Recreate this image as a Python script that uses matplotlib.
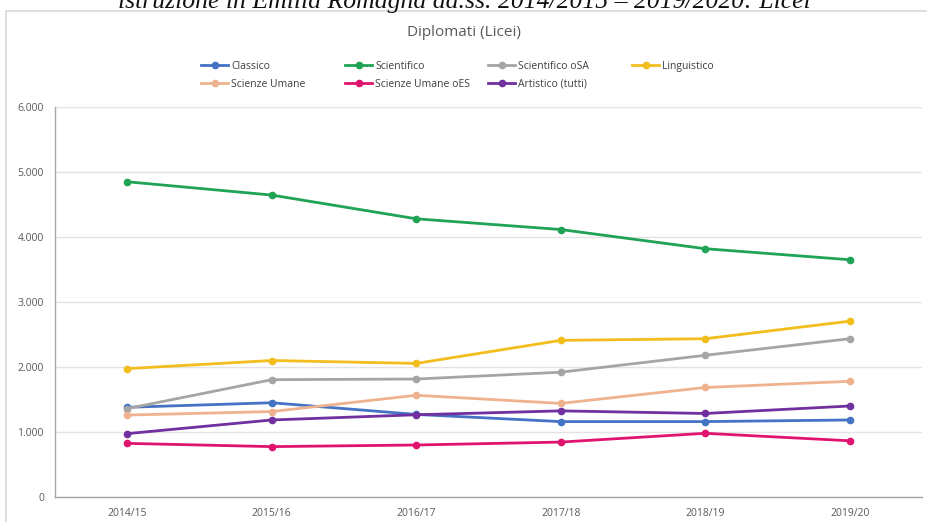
import matplotlib.pyplot as plt
from matplotlib.patches import Rectangle
from matplotlib.ticker import FuncFormatter

anni = ['2014/15', '2015/16', '2016/17', '2017/18', '2018/19', '2019/20']

classico = [1380, 1450, 1270, 1160, 1160, 1185]
scientifico = [4850, 4645, 4280, 4115, 3820, 3650]
scientifico_osa = [1360, 1805, 1815, 1920, 2180, 2435]
linguistico = [1975, 2100, 2055, 2410, 2435, 2705]
scienze_umane = [1260, 1315, 1565, 1440, 1685, 1780]
scienze_umane_oes = [825, 775, 800, 845, 980, 865]
artistico = [975, 1185, 1265, 1325, 1285, 1400]

serie = [
    ('Classico', classico, '#4472c4'),
    ('Scientifico', scientifico, '#1fa354'),
    ('Scientifico oSA', scientifico_osa, '#a5a5a5'),
    ('Linguistico', linguistico, '#f2bd1d'),
    ('Scienze Umane', scienze_umane, '#eeb38e'),
    ('Scienze Umane oES', scienze_umane_oes, '#e0146e'),
    ('Artistico (tutti)', artistico, '#70309f'),
]

plt.rcParams['font.family'] = ['Open Sans', 'DejaVu Sans']

fig = plt.figure(figsize=(9.28, 5.22), dpi=100)

# chart frame and the (cropped) caption above it
fig.patches.append(Rectangle((6 / 928, -0.1), 1.0, 1 - 11 / 522 + 0.1,
                             transform=fig.transFigure, fill=False,
                             edgecolor='#d9d9d9', linewidth=1.2))
fig.text(0.5, 1 - 8 / 522, "istruzione in Emilia Romagna aa.ss. 2014/2015 \u2013 2019/2020: Licei",
         ha='center', va='baseline', fontsize=18.5, style='italic',
         family='Liberation Serif', color='#111111')
fig.text(0.5, 1 - 33 / 522, 'Diplomati (Licei)', ha='center', va='center',
         fontsize=11, color='#595959')

ax = fig.add_axes([55 / 928, 1 - 497 / 522, 867 / 928, 390 / 522])
x = list(range(len(anni)))
linee = []
for nome, valori, colore in serie:
    l, = ax.plot(x, valori, color=colore, linewidth=2.0, marker='o', markersize=4.5,
                 label=nome, solid_joinstyle='round')
    linee.append(l)

ax.set_xlim(-0.5, 5.5)
ax.set_ylim(0, 6000)
ax.set_yticks(range(0, 6001, 1000))
ax.yaxis.set_major_formatter(FuncFormatter(lambda v, p: f'{int(v):,}'.replace(',', '.')))
ax.set_xticks(x)
ax.set_xticklabels(anni)
ax.tick_params(axis='both', length=0, labelsize=7.5, colors='#595959', pad=8)
ax.grid(axis='y', color='#e3e3e3', linewidth=1)
ax.set_axisbelow(True)
for lato in ['top', 'right']:
    ax.spines[lato].set_visible(False)
for lato in ['left', 'bottom']:
    ax.spines[lato].set_color('#a6a6a6')
    ax.spines[lato].set_linewidth(1)

# legend laid out row by row: one small legend per column
colonne_x = [201, 345, 488, 632]
for c, px in enumerate(colonne_x):
    gruppo = linee[c::4]
    fig.legend(handles=gruppo, loc='upper left',
               bbox_to_anchor=(px / 928, 1 - 61 / 522),
               frameon=False, fontsize=7.5, labelcolor='#404040',
               handlelength=2.6, handletextpad=0.3, labelspacing=0.65,
               borderaxespad=0, borderpad=0)

fig.savefig('out.png', dpi=100)
